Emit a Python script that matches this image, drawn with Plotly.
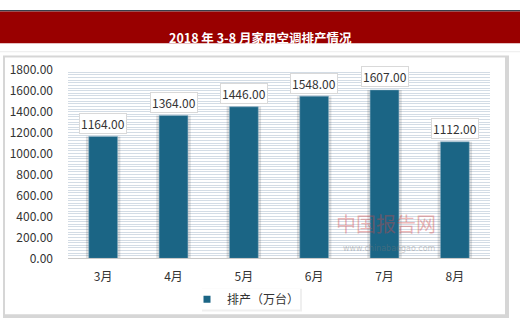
import plotly.graph_objects as go

months = ["3月", "4月", "5月", "6月", "7月", "8月"]
values = [1164.00, 1364.00, 1446.00, 1548.00, 1607.00, 1112.00]
series_name = "排产（万台）"
title_text = "2018 年 3-8 月家用空调排产情况"

W, H = 520, 327
x0, x1 = 68 / W, 490 / W
y0, y1 = (H - 262) / H, (H - 63) / H

font_cn = "Noto Sans CJK SC, Noto Sans, sans-serif"
bar_color = "#1b6585"

fig = go.Figure()
# shadow behind bars
fig.add_trace(go.Bar(x=months, y=values, width=0.49, marker=dict(color="rgba(0,0,0,0.12)", line_width=0),
                     showlegend=False, hoverinfo="skip"))
fig.add_trace(go.Bar(x=months, y=values, width=0.41, name=series_name, showlegend=False,
                     marker=dict(color=bar_color, line=dict(color="#8fb3c6", width=0.5))))
# legend entry with small square symbol
fig.add_trace(go.Scatter(x=[None], y=[None], mode="markers", name=series_name,
                         marker=dict(symbol="square", size=7, color=bar_color)))

annotations = []
for m, v in zip(months, values):
    annotations.append(dict(x=m, y=v, xref="x", yref="y", text=f"{v:.2f}", showarrow=False,
                            yshift=13, font=dict(family=font_cn, size=12, color="#333333"),
                            bgcolor="white", bordercolor="#d9d9d9", borderwidth=1, borderpad=1))
# title
annotations.append(dict(x=0.5, y=1 - 17 / H, xref="paper", yref="paper", text=f"<b>{title_text}</b>",
                        showarrow=False, font=dict(family=font_cn, size=12.5, color="white")))
# watermark
annotations.append(dict(x=438 / W, y=1 - 243 / H, xref="paper", yref="paper", text="中国报告网",
                        showarrow=False, font=dict(family=font_cn, size=20, color="rgba(210,70,70,0.4)")))
annotations.append(dict(x=438 / W, y=1 - 258 / H, xref="paper", yref="paper", text="www.chinabaogao.com",
                        showarrow=False, font=dict(family="DejaVu Sans", size=8, color="rgba(120,120,120,0.4)")))

shapes = [
    dict(type="rect", xref="paper", yref="paper", x0=0, x1=1, y0=1 - 1.5 / H, y1=1, fillcolor="#3a3f4a", line_width=0, layer="below"),
    dict(type="rect", xref="paper", yref="paper", x0=0, x1=1, y0=1 - 35 / H, y1=1 - 1.5 / H, fillcolor="#990000", line_width=0, layer="below"),
    dict(type="line", xref="paper", yref="paper", x0=0, x1=1, y0=1 - 44 / H, y1=1 - 44 / H, line=dict(color="#ececec", width=1), layer="below"),
    dict(type="rect", xref="paper", yref="paper", x0=3 / W, x1=509 / W, y0=1 - 325 / H, y1=1 - 48 / H,
         fillcolor="#d6d6d6", line_width=0, layer="below"),
    dict(type="rect", xref="paper", yref="paper", x0=5 / W, x1=505 / W, y0=1 - 321 / H, y1=1 - 50 / H,
         fillcolor="white", line_width=0, layer="below"),
    dict(type="rect", xref="paper", yref="paper", x0=202 / W, x1=302 / W, y0=1 - 318 / H, y1=1 - 294 / H,
         fillcolor="#efefef", line_width=0, layer="below"),
    dict(type="rect", xref="paper", yref="paper", x0=202 / W, x1=300 / W, y0=1 - 316 / H, y1=1 - 294 / H,
         fillcolor="white", line_width=0, layer="below"),
]

fig.update_layout(
    width=W, height=H, margin=dict(l=0, r=0, t=0, b=0),
    paper_bgcolor="white", plot_bgcolor="white",
    barmode="overlay",
    xaxis=dict(domain=[x0, x1], showgrid=False, showline=True, linecolor="#c8c8c8", linewidth=1,
               ticks="", tickfont=dict(family=font_cn, size=12, color="#333333"), ticklabelstandoff=7),
    yaxis=dict(domain=[y0, y1], range=[0, 1800], dtick=200, tickformat=".2f",
               showgrid=True, gridcolor="#d3dce5", gridwidth=1, zeroline=False,
               minor=dict(dtick=25, showgrid=True, gridcolor="#d3dce5", gridwidth=1),
               tickfont=dict(family=font_cn, size=12, color="#333333"), ticks="", ticklabelstandoff=14),
    legend=dict(orientation="h", x=246 / W, y=1 - 305 / H, xanchor="center", yanchor="middle",
                font=dict(family=font_cn, size=12, color="#333333"), bgcolor="rgba(0,0,0,0)",
                itemwidth=30),
    annotations=annotations, shapes=shapes, showlegend=True,
)

fig.write_html("out.html")
